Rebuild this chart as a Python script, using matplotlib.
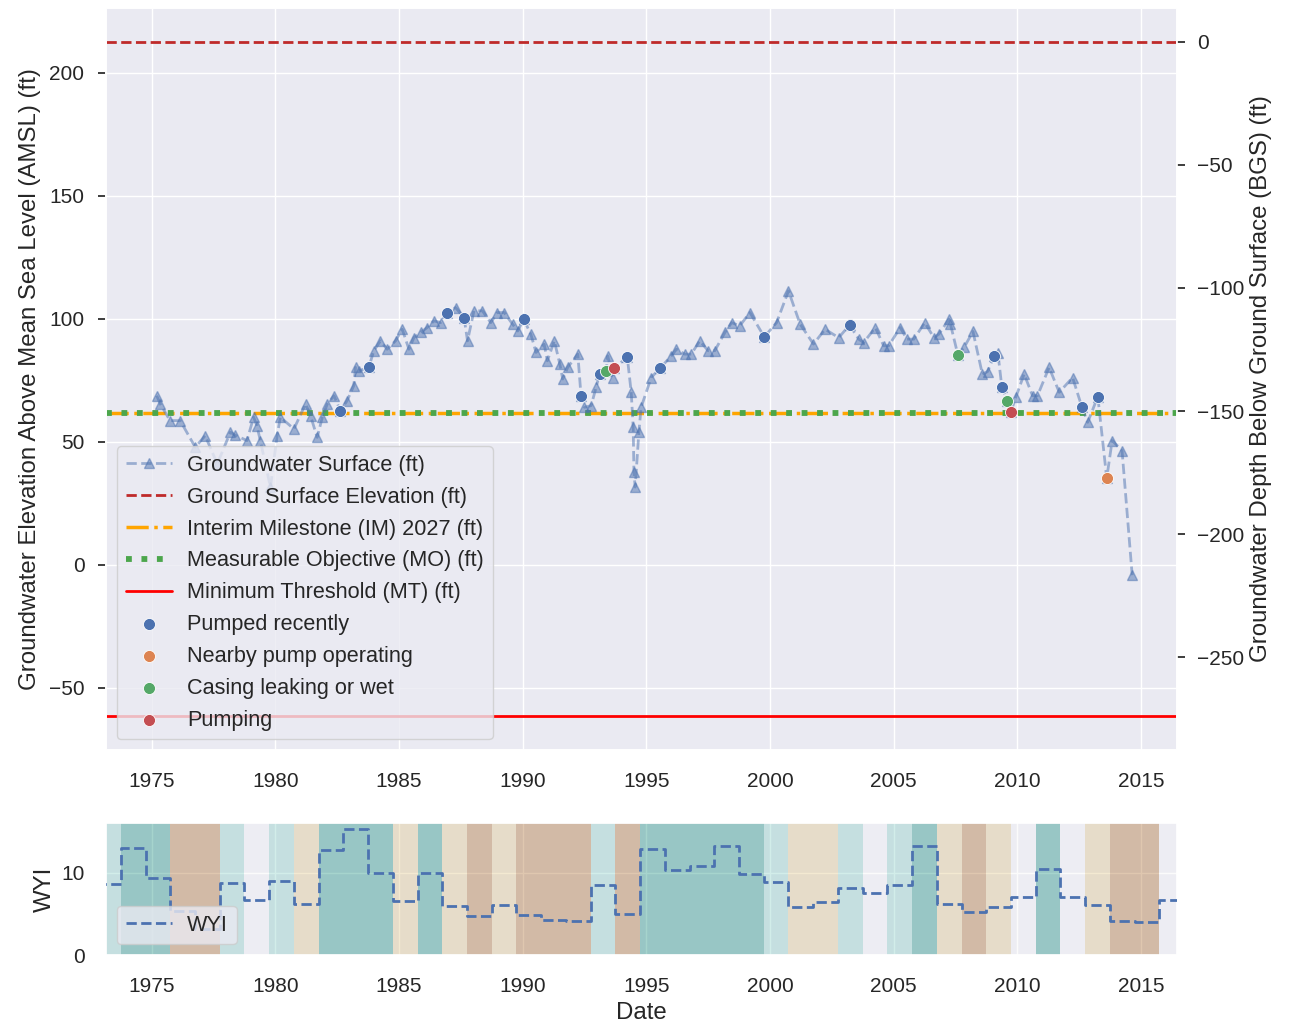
import matplotlib
matplotlib.use("Agg")
import matplotlib.pyplot as plt
import seaborn as sns
from matplotlib.ticker import MultipleLocator

sns.set_theme(style="darkgrid")
plt.rcParams["font.family"] = ["Liberation Sans", "DejaVu Sans"]

# ---------------- data ----------------
gw_year = [1975.20, 1975.35, 1975.74, 1976.15, 1976.76, 1977.16, 1977.65, 1978.18, 1978.35, 1978.85,
           1979.12, 1979.25, 1979.39, 1979.80, 1980.07, 1980.20, 1980.75, 1981.22, 1981.42, 1981.69,
           1981.90, 1982.10, 1982.37, 1982.63, 1982.90, 1983.17, 1983.24, 1983.37, 1983.78, 1983.98,
           1984.25, 1984.52, 1984.86, 1985.13, 1985.40, 1985.60, 1985.87, 1986.14, 1986.41, 1986.68,
           1986.95, 1987.29, 1987.63, 1987.77, 1988.03, 1988.37, 1988.71, 1988.98, 1989.25, 1989.59,
           1989.80, 1990.04, 1990.33, 1990.54, 1990.87, 1991.00, 1991.28, 1991.50, 1991.62, 1991.82,
           1992.23, 1992.36, 1992.50, 1992.77, 1992.97, 1993.11, 1993.38, 1993.44, 1993.65, 1993.71,
           1994.23, 1994.39, 1994.47, 1994.50, 1994.55, 1994.70, 1994.79, 1995.20, 1995.57, 1996.01,
           1996.22, 1996.55, 1996.82, 1997.16, 1997.50, 1997.77, 1998.18, 1998.45, 1998.78, 1999.19,
           1999.77, 2000.27, 2000.75, 2001.22, 2001.76, 2002.23, 2002.78, 2003.22, 2003.59, 2003.79,
           2004.26, 2004.60, 2004.80, 2005.27, 2005.54, 2005.82, 2006.26, 2006.63, 2006.83, 2007.24,
           2007.30, 2007.60, 2007.85, 2008.21, 2008.59, 2008.80, 2009.06, 2009.22, 2009.38, 2009.60,
           2009.74, 2009.94, 2010.28, 2010.62, 2010.82, 2011.29, 2011.70, 2012.24, 2012.61, 2012.85,
           2013.26, 2013.62, 2013.84, 2014.24, 2014.65]
gw_elev = [68.7, 65.3, 58.6, 58.6, 47.8, 52.5, 41.0, 53.9, 52.8, 50.5,
           60.0, 56.6, 50.5, 31.6, 52.5, 60.0, 55.2, 65.4, 60.6, 51.8,
           60.0, 65.4, 68.7, 62.6, 66.7, 72.8, 80.2, 78.8, 80.2, 87.0,
           91.0, 87.6, 91.0, 95.7, 87.6, 92.3, 94.4, 96.4, 99.1, 98.4,
           102.5, 104.5, 100.4, 91.0, 103.2, 103.2, 98.4, 102.5, 102.5, 97.8,
           95.0, 99.8, 93.7, 86.3, 89.6, 82.9, 91.0, 81.7, 75.5, 80.2,
           85.6, 68.7, 64.0, 64.7, 72.1, 77.5, 78.9, 84.9, 76.1, 79.8,
           84.5, 70.1, 55.9, 37.6, 31.6, 53.9, 64.0, 76.1, 80.0, 84.9,
           87.6, 85.6, 85.6, 91.0, 87.0, 87.0, 94.4, 98.4, 97.1, 102.5,
           92.6, 98.4, 111.3, 97.8, 89.7, 95.7, 92.3, 97.4, 91.7, 90.3,
           96.4, 89.0, 89.0, 96.4, 91.7, 91.7, 98.4, 92.3, 93.7, 99.8,
           97.8, 85.3, 88.3, 94.8, 77.5, 78.5, 84.7, 86.0, 72.1, 66.7,
           62.0, 68.0, 77.5, 68.7, 68.7, 80.2, 70.1, 76.1, 64.3, 57.9,
           68.3, 35.2, 50.5, 46.4, -4.2]
# observation flags: "" none, "P" pumped recently, "N" nearby pump operating,
# "C" casing leaking or wet, "X" pumping
gw_flag = ["", "", "", "", "", "", "", "", "", "",
           "", "", "", "", "", "", "", "", "", "",
           "", "", "", "P", "", "", "", "", "P", "",
           "", "", "", "", "", "", "", "", "", "",
           "P", "", "P", "", "", "", "", "", "", "",
           "", "P", "", "", "", "", "", "", "", "",
           "", "P", "", "", "", "P", "C", "", "", "X",
           "P", "", "", "", "", "", "", "", "P", "",
           "", "", "", "", "", "", "", "", "", "",
           "P", "", "", "", "", "", "", "P", "", "",
           "", "", "", "", "", "", "", "", "", "",
           "", "C", "", "", "", "", "P", "", "P", "C",
           "X", "", "", "", "", "", "", "", "P", "",
           "P", "N", "", "", ""]

ground_surface_elev = 212.5
interim_milestone_2027 = 61.5
measurable_objective = 61.5
minimum_threshold = -61.5

wy_years = list(range(1973, 2017))
wyi_values = [8.6, 13.0, 9.4, 5.3, 3.1, 8.7, 6.7, 9.0, 6.2, 12.8,
              15.3, 10.0, 6.5, 10.0, 5.9, 4.7, 6.1, 4.8, 4.2, 4.1,
              8.5, 5.0, 12.9, 10.3, 10.8, 13.3, 9.8, 8.9, 5.8, 6.4,
              8.2, 7.5, 8.5, 13.2, 6.2, 5.2, 5.8, 7.1, 10.5, 7.1,
              6.1, 4.1, 4.0, 6.7]
wy_types = ["AN", "W", "W", "C", "C", "AN", "BN", "AN", "D", "W",
            "W", "W", "D", "W", "D", "C", "D", "C", "C", "C",
            "AN", "C", "W", "W", "W", "W", "W", "AN", "D", "D",
            "AN", "BN", "AN", "W", "D", "C", "D", "BN", "W", "BN",
            "D", "C", "C", "BN"]
wy_type_colors = {"W": "#018571", "AN": "#80cdc1", "BN": "#f5f5f5",
                  "D": "#dfc27d", "C": "#a6611a"}

flag_labels = [("P", "Pumped recently", "#4c72b0"),
               ("N", "Nearby pump operating", "#dd8452"),
               ("C", "Casing leaking or wet", "#55a868"),
               ("X", "Pumping", "#c44e52")]

xlim = (1973.15, 2016.45)
TICK_FS = 15
LABEL_FS = 17.3
LEG_FS = 15.6

# ---------------- figure ----------------
fig = plt.figure(figsize=(12.89, 10.25), dpi=100)
ax = fig.add_axes([0.08224, 0.26829, 0.83064, 0.72390])
axb = fig.add_axes([0.08224, 0.06829, 0.83064, 0.12849])

ax.plot(gw_year, gw_elev, linestyle="--", marker="^", color="#4c72b0", alpha=0.5,
        linewidth=2, markersize=7, label="Groundwater Surface (ft)", zorder=3)
ax.axhline(ground_surface_elev, color="#bf2a2a", linestyle="--", linewidth=2,
           label="Ground Surface Elevation (ft)", zorder=2)
ax.axhline(interim_milestone_2027, color="orange", linestyle="-.", linewidth=2.5,
           label="Interim Milestone (IM) 2027 (ft)", zorder=2)
ax.axhline(measurable_objective, color="#4ca64c", linestyle=":", linewidth=4.2,
           label="Measurable Objective (MO) (ft)", zorder=2)
ax.axhline(minimum_threshold, color="red", linestyle="-", linewidth=2,
           label="Minimum Threshold (MT) (ft)", zorder=2)

for code, lab, col in flag_labels:
    xs = [x for x, f in zip(gw_year, gw_flag) if f == code]
    ys = [y for y, f in zip(gw_elev, gw_flag) if f == code]
    ax.scatter(xs, ys, s=75, color=col, edgecolor="white", linewidth=0.6,
               label=lab, zorder=4)

lo = min(min(gw_elev), minimum_threshold)
hi = max(max(gw_elev), ground_surface_elev)
pad = 0.05 * (hi - lo)
ylim = (lo - pad, hi + pad)
ax.set_xlim(*xlim)
ax.set_ylim(*ylim)
ax.xaxis.set_major_locator(MultipleLocator(5))
ax.yaxis.set_major_locator(MultipleLocator(50))
ax.tick_params(axis="x", bottom=False, length=6, pad=10, labelsize=TICK_FS, labelcolor=".15")
ax.tick_params(axis="y", left=True, length=6, width=1.25, pad=9.5, color=".15",
               labelsize=TICK_FS, labelcolor=".15")
ax.set_ylabel("Groundwater Elevation Above Mean Sea Level (AMSL) (ft)", fontsize=LABEL_FS,
              color=".15", labelpad=6)
ax.legend(loc="lower left", fontsize=LEG_FS, handlelength=2.15, handletextpad=0.7)

axr = ax.twinx()
axr.grid(False)
axr.set_ylim(ylim[0] - ground_surface_elev, ylim[1] - ground_surface_elev)
axr.yaxis.set_major_locator(MultipleLocator(50))
axr.tick_params(axis="y", right=True, length=6, width=1.25, pad=8.5, color=".15",
                labelsize=TICK_FS, labelcolor=".15")
axr.set_ylabel("Groundwater Depth Below Ground Surface (BGS) (ft)", fontsize=LABEL_FS,
               color=".15")

# ---------------- WYI panel ----------------
for yr, t in zip(wy_years, wy_types):
    axb.axvspan(yr - 0.25, yr + 0.75, color=wy_type_colors[t], alpha=0.35, linewidth=0,
                zorder=1)
step_x = [yr - 0.25 for yr in wy_years] + [wy_years[-1] + 0.75]
step_y = list(wyi_values) + [wyi_values[-1]]
axb.plot(step_x, step_y, drawstyle="steps-post", linestyle="--", color="#4c72b0",
         linewidth=2, label="WYI", zorder=3)
axb.set_xlim(*xlim)
axb.set_ylim(0, 16)
axb.set_yticks([0, 10])
axb.xaxis.set_major_locator(MultipleLocator(5))
axb.tick_params(axis="x", bottom=False, length=6, pad=10, labelsize=TICK_FS, labelcolor=".15")
axb.tick_params(axis="y", left=False, length=6, pad=9.5, labelsize=TICK_FS, labelcolor=".15")
axb.set_ylabel("WYI", fontsize=LABEL_FS, color=".15")
axb.set_xlabel("Date", fontsize=LABEL_FS, color=".15")
axb.legend(loc="lower left", fontsize=LEG_FS, handlelength=2.15, handletextpad=0.7)

fig.savefig("out.png", dpi=100)
